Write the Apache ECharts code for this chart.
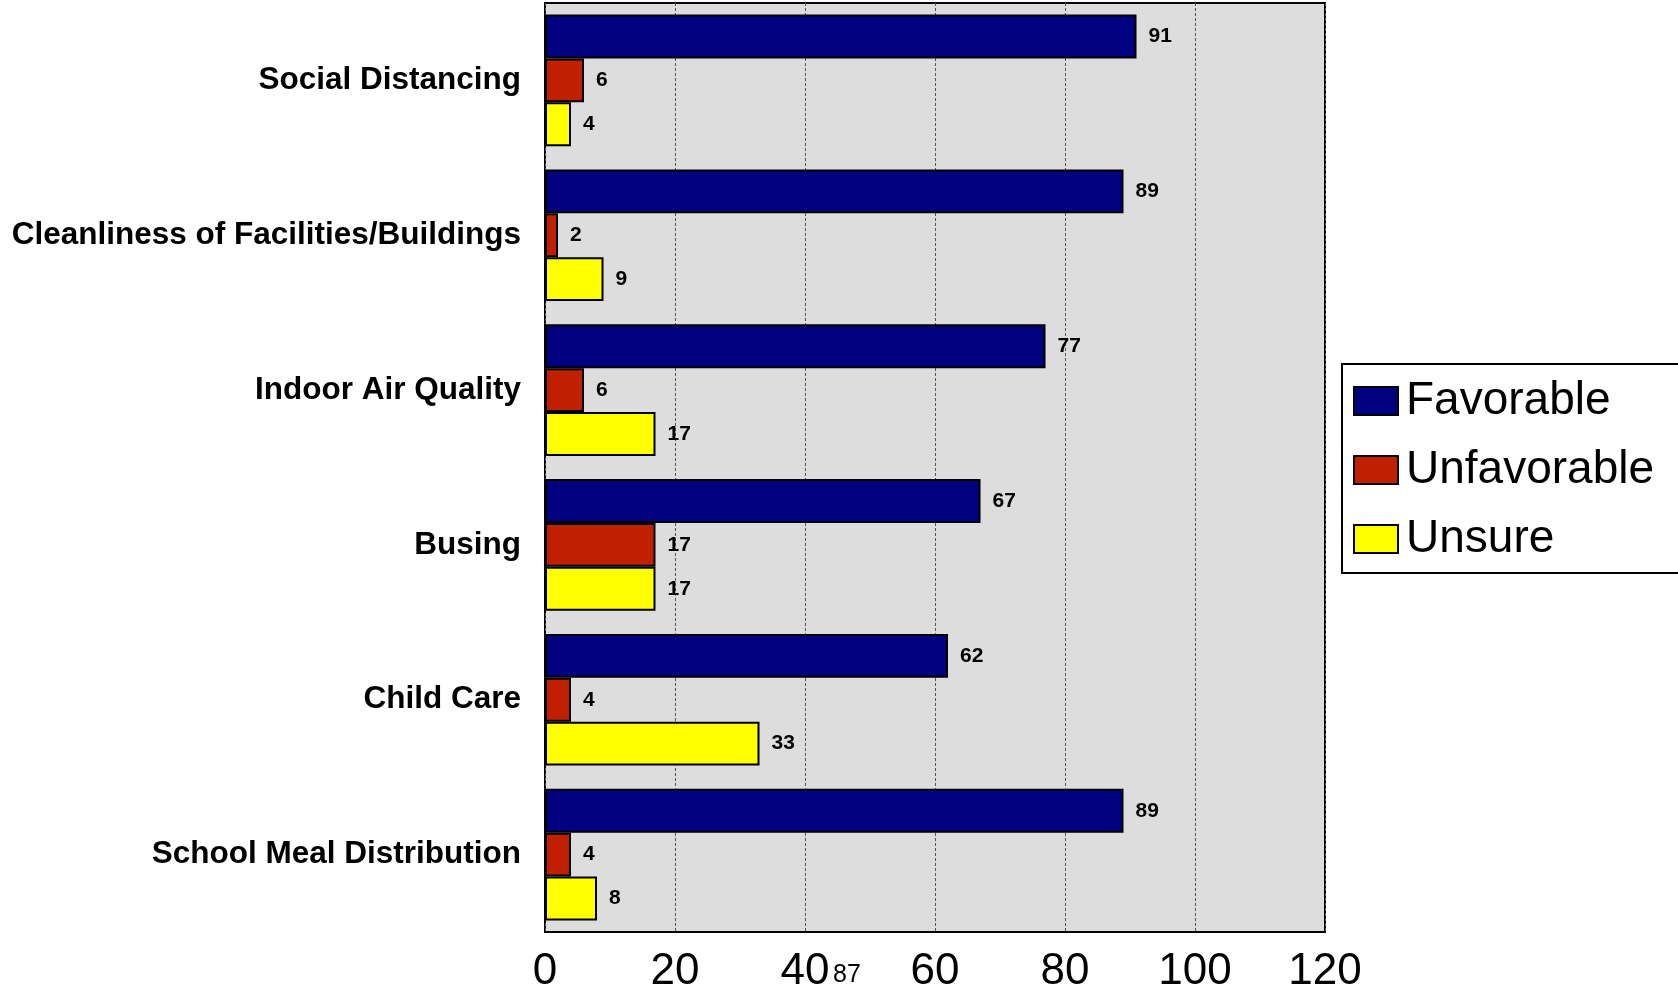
<!DOCTYPE html>
<html>
<head>
<meta charset="utf-8">
<script src="https://cdn.jsdelivr.net/npm/echarts@6/dist/echarts.min.js"></script>
<style>
html,body{margin:0;padding:0;background:#fff;}
#c{width:1678px;height:994px;}
</style>
</head>
<body>
<div id="c"></div>
<script>
const categories = ["Social Distancing", "Cleanliness of Facilities/Buildings", "Indoor Air Quality", "Busing", "Child Care", "School Meal Distribution"];
const favorable = [91, 89, 77, 67, 62, 89];
const unfavorable = [6, 2, 6, 17, 4, 4];
const unsure = [4, 9, 17, 17, 33, 8];
const seriesNames = ["Favorable", "Unfavorable", "Unsure"];
const xTicks = [0, 20, 40, 60, 80, 100, 120];
const strayNote = "87";

const chart = echarts.init(document.getElementById('c'), null, {renderer: 'canvas'});
const colors = ['#000080', '#C02000', '#FFFF00'];
const valueLabel = {show: true, position: 'right', distance: 12, color: '#000', fontFamily: 'Liberation Sans, Arial, sans-serif', fontWeight: 'bold', fontSize: 21};
function mkSeries(name, data, color) {
  return {
    name: name, type: 'bar', data: data,
    barGap: '0%', barCategoryGap: '15%',
    itemStyle: {color: color, borderColor: '#000', borderWidth: 2},
    label: valueLabel
  };
}
chart.setOption({
  animation: false,
  backgroundColor: '#fff',
  grid: {left: 545, right: 353, top: 3, bottom: 62, show: true, backgroundColor: '#DDDDDD', borderColor: '#000', borderWidth: 2},
  legend: {
    orient: 'vertical', left: 1342, top: 364, width: 334,
    data: seriesNames,
    backgroundColor: '#fff', borderColor: '#000', borderWidth: 2, borderRadius: 0,
    padding: [14, 40, 11, 11],
    itemWidth: 44, itemHeight: 28, itemGap: 23,
    icon: 'rect',
    textStyle: {fontFamily: 'Liberation Sans, Arial, sans-serif', fontSize: 46, color: '#000', padding: [0, 0, 0, 3]}
  },
  xAxis: {
    type: 'value', min: xTicks[0], max: xTicks[xTicks.length - 1], interval: 20,
    axisLine: {show: false}, axisTick: {show: false},
    splitLine: {show: true, lineStyle: {color: '#555', width: 1, type: [3, 2]}},
    axisLabel: {fontFamily: 'Liberation Sans, Arial, sans-serif', fontSize: 44, color: '#000', margin: 18}
  },
  yAxis: {
    type: 'category', data: categories, inverse: true,
    axisLine: {show: false}, axisTick: {show: false},
    axisLabel: {fontFamily: 'Liberation Sans, Arial, sans-serif', fontWeight: 'bold', fontSize: 31.5, color: '#000', margin: 24, padding: [12, 0, 0, 0]}
  },
  graphic: [{
    type: 'text', left: 833, top: 963,
    style: {text: strayNote, fontFamily: 'Liberation Sans, Arial, sans-serif', fontSize: 25, fill: '#000'}
  }],
  series: [
    mkSeries(seriesNames[0], favorable, colors[0]),
    mkSeries(seriesNames[1], unfavorable, colors[1]),
    mkSeries(seriesNames[2], unsure, colors[2])
  ]
});
</script>
</body>
</html>
